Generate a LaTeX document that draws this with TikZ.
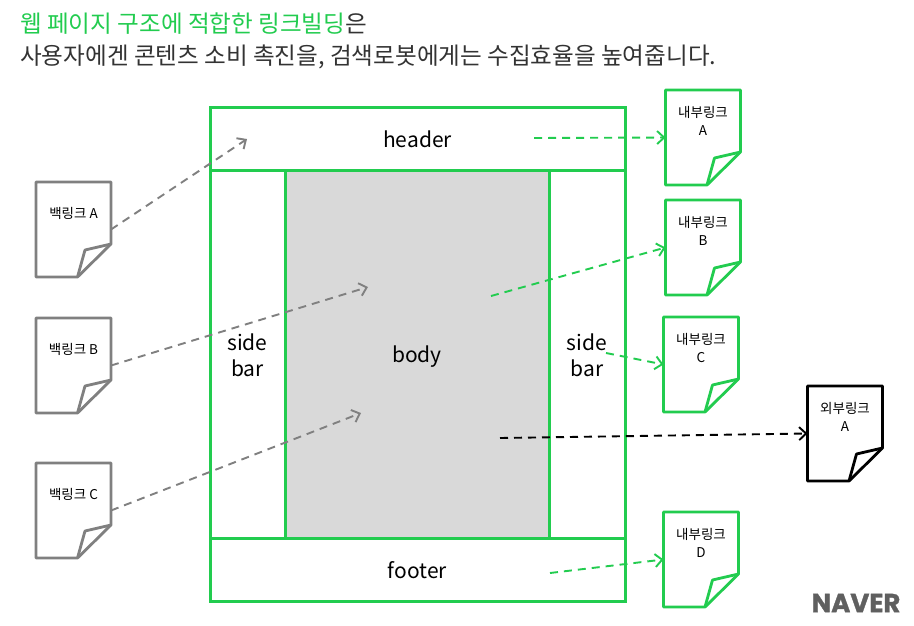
\documentclass[tikz,border=0pt]{standalone}
\usepackage{fontspec}
\setmainfont{Noto Sans CJK KR}
\newfontfamily\logofont{Poppins}[FakeBold=1.2]
\usetikzlibrary{arrows.meta}
\definecolor{ngreen}{HTML}{22CC4F}
\definecolor{ngray}{HTML}{808080}
\definecolor{ntext}{HTML}{333333}
\definecolor{nbody}{HTML}{D9D9D9}
\definecolor{nlogo}{HTML}{5F5F5F}
\tikzset{
  region/.style={inner sep=0pt,outer sep=0pt},
  framed/.style={draw=ngreen,line width=3pt,line join=miter},
  regionlabel/.style={inner sep=0pt,align=center,font=\fontsize{21}{26}\selectfont,text=black},
  docbox/.style={inner sep=0pt,outer sep=0pt,minimum width=75pt,minimum height=95pt},
  doclabel/.style={font=\fontsize{13.5}{18}\selectfont,align=center,text=black,inner sep=0pt},
  link/.style={line width=1.9pt,dash pattern=on 8pt off 6pt,-{Straight Barb[length=7pt,width=13pt,line width=1.9pt]}},
  titletext/.style={anchor=west,inner sep=0pt,font=\fontsize{23.6}{28}\selectfont},
}
% \docpage{name}{x}{y}{colour}{label}
\newcommand{\docpage}[5]{%
  \node[docbox,anchor=north west] (#1) at (#2,#3) {};
  \draw[#4,line width=2.8pt,line join=round]
    (#1.north west) -- (#1.north east) -- ++(0,62) -- ++(-33.5,33) -- (#1.south west) -- cycle;
  \draw[#4,line width=2.8pt,line join=round]
    (#1.north east) ++(0,62) -- ++(-26,6) -- ++(-7.5,27);
  \node[doclabel,anchor=center] at ([yshift=-31pt]#1.north) {#5};
}
% \regionbox{name}{x}{y}{w}{h}{fill}{label}
\newcommand{\regionbox}[7]{%
  \node[region,minimum width=#4pt,minimum height=#5pt,anchor=north west] (#1) at (#2,#3) {};
  \draw[framed,fill=#6] (#1.north west) rectangle (#1.south east);
  \node[regionlabel] at ([yshift=-1pt]#1.center) {#7};
}
\begin{document}
\begin{tikzpicture}[x=1pt,y=-1pt]
\useasboundingbox (0,0) rectangle (914,625);
\fill[white] (0,0) rectangle (914,625);
% title
\node[titletext] (title1) at (20,24)
  {\textcolor{ngreen}{웹 페이지 구조에 적합한 링크빌딩}\textcolor{ntext}{은}};
\node[titletext,text=ntext] (title2) at (20,57)
  {사용자에겐 콘텐츠 소비 촉진을, 검색로봇에게는 수집효율을 높여줍니다.};
% layout regions
\regionbox{header}{210}{107}{415}{63}{white}{header}
\regionbox{footer}{210}{538}{415}{63}{white}{footer}
\regionbox{sideL}{210}{170}{75}{368}{white}{side\\bar}
\regionbox{sideR}{549}{170}{76}{368}{white}{side\\bar}
\node[region,minimum width=264pt,minimum height=368pt,anchor=north west] (body) at (285,170) {};
\draw[framed,fill=nbody] (body.north west) rectangle (body.south east);
\node[regionlabel] at ([yshift=-3pt]body.center) {body};
% pages
\docpage{backA}{36}{182}{ngray}{백링크 A}
\docpage{backB}{36}{318}{ngray}{백링크 B}
\docpage{backC}{36}{463}{ngray}{백링크 C}
\docpage{inA}{665.5}{90}{ngreen}{내부링크\\A}
\docpage{inB}{665.5}{200}{ngreen}{내부링크\\B}
\docpage{inC}{663.5}{317}{ngreen}{내부링크\\C}
\docpage{inD}{663.5}{512}{ngreen}{내부링크\\D}
\docpage{extA}{807.5}{386}{black}{외부링크\\A}
% free ends
\coordinate (t1) at (247,139);
\coordinate (t2) at (368,287);
\coordinate (t3) at (361,413);
\coordinate (s1) at (534,138);
\coordinate (s2) at (491,296);
\coordinate (s3) at (606,353);
\coordinate (s4) at (550,573);
\coordinate (s5) at (500,438);
% connectors
\draw[link,ngray] (backA.east) -- (t1);
\draw[link,ngray] (backB.east) -- (t2);
\draw[link,ngray] (backC.east) -- (t3);
\draw[link,ngreen] (s1) -- (inA.west);
\draw[link,ngreen] (s2) -- (inB.west);
\draw[link,ngreen] (s3) -- (inC.west);
\draw[link,ngreen] (s4) -- (inD.west);
\draw[link,black] (s5) -- (extA.west);
% logo
\node[anchor=center,inner sep=0pt,text=nlogo,font=\logofont\bfseries\fontsize{26}{26}\selectfont] (logo) at (856,603) {NAVER};
\end{tikzpicture}
\end{document}
